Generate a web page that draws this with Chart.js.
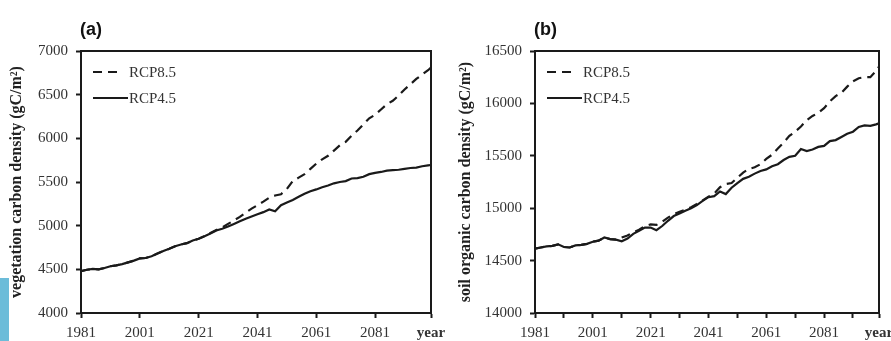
<!DOCTYPE html>
<html>
<head>
<meta charset="utf-8">
<script src="https://cdn.jsdelivr.net/npm/chart.js@4"></script>
<style>
  body { margin: 0; background: #fff; }
  #wrap { position: relative; width: 891px; height: 341px; overflow: hidden; }
  #wrap canvas { position: absolute; top: 0; }
  .strip { position: absolute; left: 0; top: 278px; width: 9px; height: 63px; background: #6cbcd9; }
</style>
</head>
<body>
<div id="wrap">
  <div class="strip"></div>
  <canvas id="chartA" width="445" height="341" style="left:0"></canvas>
  <canvas id="chartB" width="446" height="341" style="left:445px"></canvas>
</div>
<script>
/* DATA */
const years = [1981, 1983, 1985, 1987, 1989, 1991, 1993, 1995, 1997, 1999,
    2001, 2003, 2005, 2007, 2009, 2011, 2013, 2015, 2017, 2019,
    2021, 2023, 2025, 2027, 2029, 2031, 2033, 2035, 2037, 2039,
    2041, 2043, 2045, 2047, 2049, 2051, 2053, 2055, 2057, 2059,
    2061, 2063, 2065, 2067, 2069, 2071, 2073, 2075, 2077, 2079,
    2081, 2083, 2085, 2087, 2089, 2091, 2093, 2095, 2097, 2099, 2100];

const vegRcp85 = [4480, 4495, 4505, 4500, 4515, 4535, 4545, 4560, 4580, 4600,
    4625, 4630, 4650, 4680, 4710, 4735, 4765, 4785, 4800, 4830,
    4850, 4880, 4915, 4950, 4980, 5020, 5060, 5100, 5150, 5195,
    5235, 5275, 5320, 5345, 5360, 5420, 5510, 5550, 5590, 5650,
    5710, 5760, 5800, 5860, 5920, 5960, 6030, 6090, 6160, 6230,
    6270, 6330, 6390, 6430, 6490, 6560, 6620, 6680, 6730, 6780, 6810];

const vegRcp45 = [4480, 4495, 4505, 4500, 4515, 4535, 4545, 4560, 4580, 4600,
    4625, 4630, 4650, 4680, 4710, 4735, 4765, 4785, 4800, 4830,
    4850, 4880, 4910, 4945, 4965, 4990, 5020, 5050, 5080, 5105,
    5130, 5155, 5185, 5165, 5235, 5265, 5295, 5330, 5365, 5395,
    5415, 5440, 5460, 5485, 5500, 5510, 5540, 5545, 5560, 5590,
    5605, 5615, 5630, 5635, 5640, 5650, 5660, 5665, 5680, 5690, 5695];

const soilRcp85 = [14615, 14625, 14635, 14640, 14655, 14630, 14625, 14645, 14650, 14660,
    14680, 14690, 14720, 14705, 14700, 14720, 14740, 14770, 14795, 14830,
    14845, 14840, 14870, 14910, 14945, 14965, 14985, 15010, 15040, 15075,
    15110, 15140, 15200, 15230, 15240, 15290, 15340, 15375, 15390, 15420,
    15470, 15510, 15570, 15625, 15690, 15730, 15780, 15840, 15880, 15910,
    15955, 16020, 16070, 16100, 16160, 16210, 16240, 16250, 16250, 16310, 16350];

const soilRcp45 = [14615, 14625, 14635, 14640, 14655, 14630, 14625, 14645, 14650, 14660,
    14680, 14690, 14720, 14705, 14700, 14685, 14710, 14755, 14785, 14815,
    14815, 14790, 14830, 14880, 14925, 14950, 14975, 15000, 15030, 15070,
    15105, 15115, 15160, 15135, 15195, 15240, 15280, 15300, 15330, 15355,
    15370, 15400, 15420, 15460, 15490, 15500, 15565, 15545, 15560, 15585,
    15595, 15640, 15650, 15680, 15710, 15730, 15775, 15790, 15785, 15800, 15810];

const xTicksA = [1981, 2001, 2021, 2041, 2061, 2081, 2100];
const xTicksB = [1981, 1991, 2001, 2011, 2021, 2031, 2041, 2051, 2061, 2071, 2081, 2091, 2100];

const INK = "#1a1a1a";
const SERIF = "'Liberation Serif', 'Times New Roman', serif";

/* FRAME, PANEL LABEL, LEGEND */
const panelDecor = {
    id: "panelDecor",
    afterDraw(chart, args, opts) {
        const ctx = chart.ctx;
        const a = chart.chartArea;
        ctx.save();
        ctx.strokeStyle = INK;
        ctx.lineWidth = 2;
        ctx.strokeRect(a.left, a.top, a.right - a.left, a.bottom - a.top);

        ctx.fillStyle = "#111";
        ctx.font = "bold 18px 'Liberation Sans', Arial, sans-serif";
        ctx.textBaseline = "middle";
        ctx.textAlign = "left";
        ctx.fillText(opts.label, a.left - 1, 30);

        ctx.font = "15px " + SERIF;
        ctx.fillStyle = "#333";
        chart.data.datasets.forEach((ds, i) => {
            const y = a.top + 21 + i * 26;
            ctx.beginPath();
            ctx.setLineDash(ds.borderDash || []);
            ctx.lineWidth = 2.2;
            ctx.strokeStyle = ds.borderColor;
            ctx.moveTo(a.left + 12, y);
            ctx.lineTo(a.left + (ds.borderDash ? 40 : 47), y);
            ctx.stroke();
            ctx.setLineDash([]);
            ctx.fillText(ds.label, a.left + 48, y + 1);
        });
        ctx.restore();
    }
};

function toPoints(vals) {
    return years.map((y, i) => ({ x: y, y: vals[i] }));
}

function makePanel(id, p) {
    return new Chart(document.getElementById(id), {
        type: "line",
        data: {
            datasets: [
                { label: "RCP8.5", data: toPoints(p.rcp85), borderColor: INK, borderWidth: 2.2, borderDash: [9, 6], pointRadius: 0, tension: 0 },
                { label: "RCP4.5", data: toPoints(p.rcp45), borderColor: INK, borderWidth: 2.2, pointRadius: 0, tension: 0 }
            ]
        },
        options: {
            responsive: false,
            animation: false,
            devicePixelRatio: 1,
            layout: { padding: { top: 51, right: p.padRight, left: 0, bottom: 0 } },
            plugins: {
                legend: { display: false },
                tooltip: { enabled: false },
                panelDecor: { label: p.label }
            },
            scales: {
                x: {
                    type: "linear",
                    min: 1981,
                    max: 2100,
                    afterBuildTicks: s => { s.ticks = p.xTicks.map(v => ({ value: v })); },
                    afterFit: s => { s.height = 28; s.paddingLeft = 0; s.paddingRight = 0; },
                    ticks: {
                        autoSkip: false,
                        maxRotation: 0,
                        padding: 6,
                        color: "#333",
                        font: c => ({ family: SERIF, size: 15, weight: c.tick && c.tick.value === 2100 ? "bold" : "normal" }),
                        callback: v => v === 2100 ? "year" : ((v - 1981) % 20 === 0 ? String(v) : "")
                    },
                    grid: { drawOnChartArea: false, tickLength: 5, tickWidth: 2, color: INK },
                    border: { width: 2, color: INK }
                },
                y: {
                    min: p.yMin,
                    max: p.yMax,
                    afterFit: s => { s.width = p.axisWidth; s.paddingTop = 0; s.paddingBottom = 0; },
                    ticks: {
                        stepSize: 500,
                        padding: 8,
                        color: "#333",
                        font: { family: SERIF, size: 15 },
                        callback: v => String(v)
                    },
                    grid: { drawOnChartArea: false, tickLength: 5, tickWidth: 2, color: INK },
                    border: { width: 2, color: INK },
                    title: {
                        display: true,
                        text: p.yTitle,
                        color: "#222",
                        font: { family: SERIF, size: 16, weight: "bold" },
                        padding: { top: p.titlePad, bottom: 0 }
                    }
                }
            }
        },
        plugins: [panelDecor]
    });
}

makePanel("chartA", {
    label: "(a)", rcp85: vegRcp85, rcp45: vegRcp45, xTicks: xTicksA,
    yMin: 4000, yMax: 7000, axisWidth: 81, padRight: 14, titlePad: 7.4,
    yTitle: "vegetation carbon density (gC/m\u00B2)"
});

makePanel("chartB", {
    label: "(b)", rcp85: soilRcp85, rcp45: soilRcp45, xTicks: xTicksB,
    yMin: 14000, yMax: 16500, axisWidth: 90, padRight: 12, titlePad: 11.4,
    yTitle: "soil organic carbon density (gC/m\u00B2)"
});
</script>
</body>
</html>
